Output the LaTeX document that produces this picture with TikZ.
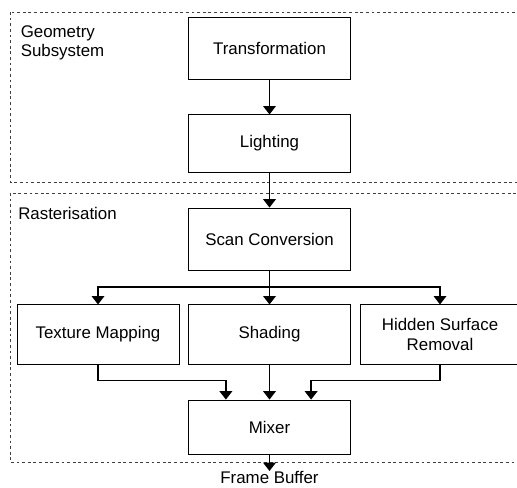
\documentclass[tikz,border=0pt]{standalone}
\usepackage{fontspec}
\setmainfont{Liberation Sans}
\usetikzlibrary{arrows.meta}
\tikzset{
  box/.style = {draw, line width=0.6pt, minimum width=4.03cm, inner sep=2pt, align=center, font=\fontsize{12}{14}\selectfont},
  arr/.style = {line width=1pt, -{Triangle[width=9pt,length=6pt]}},
  group/.style = {draw=black!75, line width=0.5pt, dash pattern=on 2pt off 2pt},
  grouplabel/.style = {anchor=north west, inner sep=0pt, align=left, font=\fontsize{12}{13.8}\selectfont}
}
\begin{document}
\begin{tikzpicture}[x=0.025cm, y=-0.025cm]
    \useasboundingbox (0,0) rectangle (517,487);
    % subsystem frames
    \draw[group] (10,12) rectangle (520,182);
    \draw[group] (10,193) rectangle (520,462);
    \node[grouplabel] (geolabel) at (20.5,25) {Geometry\\Subsystem};
    \node[grouplabel] (raslabel) at (18,207) {Rasterisation};
    % blocks
    \node[box, minimum height=1.55cm] (trans) at (269.5,48) {Transformation};
    \node[box, minimum height=1.43cm] (light) at (269.5,143.5) {Lighting};
    \node[box, minimum height=1.55cm] (scan) at (269.5,239) {Scan Conversion};
    \node[box, minimum height=1.48cm, minimum width=4.05cm] (tex) at (98,334.5) {Texture Mapping};
    \node[box, minimum height=1.48cm] (shade) at (269.5,334.5) {Shading};
    \node[box, minimum height=1.48cm, minimum width=4cm] (hidden) at (440,334.5) {Hidden Surface\\Removal};
    \node[box, minimum height=1.35cm] (mix) at (269.5,427) {Mixer};
    \node[anchor=north, inner sep=0pt, font=\fontsize{12}{14}\selectfont] (fb) at (269.5,471) {Frame Buffer};
    \coordinate (split) at (269.5,287);
    % connectors
    \draw[arr] (trans) -- (light);
    \draw[arr] (light) -- (scan);
    \draw[line width=1pt] (scan) -- (split);
    \draw[arr] (split) -| (tex);
    \draw[arr] (split) -- (shade);
    \draw[arr] (split) -| (hidden);
    \draw[arr] (tex.south) -- ++(0,16) -| ([xshift=-1.09cm]mix.north);
    \draw[arr] (shade) -- (mix);
    \draw[arr] (hidden.south) -- ++(0,16) -| ([xshift=1.04cm]mix.north);
    \draw[arr] (mix) -- (fb);
\end{tikzpicture}
\end{document}
